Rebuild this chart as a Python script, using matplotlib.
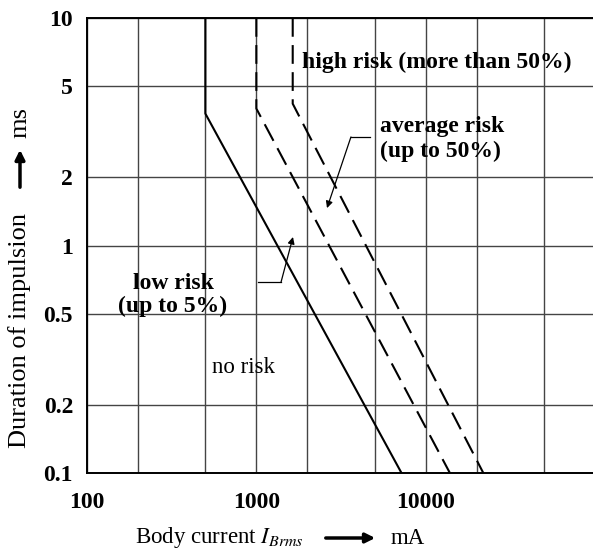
import matplotlib
matplotlib.use("Agg")
import matplotlib.pyplot as plt

plt.rcParams['font.family'] = ['Liberation Serif', 'DejaVu Serif']
plt.rcParams['mathtext.fontset'] = 'stix'

# body current in mA, duration in ms
low_current = [500, 500, 7200]
low_time = [10, 3.8, 0.1]
avg_current = [1000, 1000, 13900]
avg_time = [10, 4.0, 0.1]
high_current = [1640, 1640, 21900]
high_time = [10, 4.2, 0.1]

x_grid = [100, 200, 500, 1000, 2000, 5000, 10000, 20000, 50000, 100000]
x_labels = ['100', '', '', '1000', '', '', '10000', '', '', '']
y_grid = [0.1, 0.2, 0.5, 1, 2, 5, 10]
y_labels = ['0.1', '0.2', '0.5', '1', '2', '5', '10']

fig = plt.figure(figsize=(5.93, 5.52), dpi=100)
ax = fig.add_axes([87/593, 79/552, 508/593, 455/552])

ax.plot(low_current, low_time, color='black', lw=1.5)
ax.plot(avg_current, avg_time, color='black', lw=1.5, ls=(0, (9, 4)))
ax.plot(high_current, high_time, color='black', lw=1.5, ls=(0, (9, 4)))

ax.set_xscale('log')
ax.set_yscale('log')
ax.set_xlim(100, 100000)
ax.set_ylim(0.1, 10)
ax.minorticks_off()
ax.set_xticks(x_grid)
ax.set_xticklabels(x_labels)
ax.set_yticks(y_grid)
ax.set_yticklabels(y_labels)
ax.tick_params(length=0, labelsize=17)
ax.tick_params(axis='x', pad=14)
ax.tick_params(axis='y', pad=10)
for lab in ax.get_xticklabels() + ax.get_yticklabels():
    lab.set_fontweight('bold')
ax.grid(True, color='#444444', lw=1.0)
for s in ax.spines.values():
    s.set_linewidth(1.4)
ax.spines['right'].set_visible(False)

bold = dict(fontsize=17, fontweight='bold')
ax.text(1860, 6.4, 'high risk (more than 50%)', ha='left', va='center', **bold)
ax.text(5370, 2.94, 'average risk\n(up to 50%)', ha='left', va='center',
        linespacing=1.2, **bold)
ax.text(322, 0.606, 'low risk\n(up to 5%)', ha='center', va='center',
        multialignment='center', linespacing=1.15, **bold)
ax.text(547, 0.292, 'no risk', ha='left', va='center', fontsize=16.5)

# leader lines
ax.plot([4690, 3620], [3.0, 3.0], color='black', lw=0.9)
ax.annotate('', xy=(2614, 1.46), xytext=(3620, 3.0),
            arrowprops=dict(arrowstyle='-|>', lw=0.9, color='black',
                            mutation_scale=10, shrinkA=0, shrinkB=0))
ax.plot([1023, 1399], [0.69, 0.69], color='black', lw=0.9)
ax.annotate('', xy=(1646, 1.09), xytext=(1399, 0.69),
            arrowprops=dict(arrowstyle='-|>', lw=0.9, color='black',
                            mutation_scale=10, shrinkA=0, shrinkB=0))

# axis labels
fig.text(135/593, 14/552, 'Body current $I_{Brms}$', ha='left', va='center', fontsize=16.5)
fig.text(391/593, 14/552, 'mA', ha='left', va='center', fontsize=16.5)
fig.text(20/593, 222/552, 'Duration of impulsion', rotation=90, ha='center',
         va='center', fontsize=19)
fig.text(20/593, 430/552, 'ms', rotation=90, ha='center', va='center', fontsize=19)
fig.patches.append(matplotlib.patches.FancyArrowPatch(
    (323/593, 14/552), (378/593, 14/552), transform=fig.transFigure,
    arrowstyle='-|>', lw=2.5, color='black', mutation_scale=14))
fig.patches.append(matplotlib.patches.FancyArrowPatch(
    (20/593, 362/552), (20/593, 405/552), transform=fig.transFigure,
    arrowstyle='-|>', lw=2.5, color='black', mutation_scale=14))

fig.savefig('out.png', dpi=100)
